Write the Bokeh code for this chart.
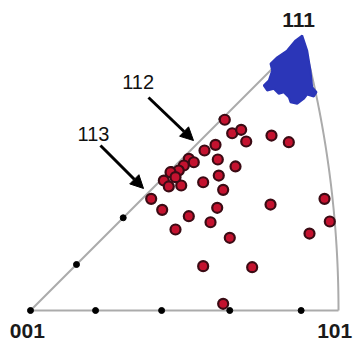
import numpy as np
from bokeh.plotting import figure
from bokeh.models import Label, Arrow, NormalHead
from bokeh.embed import file_html
from bokeh.resources import INLINE

# ---- data (stereographic projection coordinates, cubic standard triangle) ----
# tick marks every 10 degrees along the edges
edge_tick_deg_bottom = [0, 10, 20, 30, 40]
edge_tick_deg_diag = [10, 20, 30, 40, 50]

# grain orientations (red)
red_x = [0.2613, 0.2712, 0.2833, 0.2901, 0.3241, 0.3474, 0.2488, 0.2340, 0.2519, 0.2757,
         0.2129, 0.2196, 0.2062, 0.1994, 0.1883, 0.1793, 0.1860, 0.2027, 0.1950, 0.2322,
         0.2532, 0.2591, 0.1623, 0.1771, 0.2129, 0.2511, 0.2421, 0.1950, 0.2680, 0.3228,
         0.3954, 0.4025, 0.3752, 0.2322, 0.2981, 0.2591]
red_y = [0.2565, 0.2384, 0.2430, 0.2273, 0.2353, 0.2263, 0.2228, 0.2152, 0.2031, 0.1937,
         0.2040, 0.1994, 0.1950, 0.1883, 0.1860, 0.1748, 0.1668, 0.1681, 0.1793, 0.1725,
         0.1815, 0.1623, 0.1502, 0.1354, 0.1268, 0.1381, 0.1187, 0.1089, 0.0978, 0.1425,
         0.1502, 0.1197, 0.1035, 0.0596, 0.0582, 0.0090]

# cluster near 111 (blue)
blue_x = [0.3654, 0.3721, 0.3765, 0.3788, 0.3846, 0.3810, 0.3721, 0.3675, 0.3587, 0.3497,
          0.3474, 0.3406, 0.3339, 0.3272, 0.3183, 0.3137, 0.3205, 0.3250, 0.3228, 0.3318,
          0.3452, 0.3564]
blue_y = [0.3698, 0.3497, 0.3227, 0.3003, 0.2936, 0.2878, 0.2905, 0.2847, 0.2780, 0.2801,
          0.2868, 0.2936, 0.2914, 0.2981, 0.2959, 0.3026, 0.3093, 0.3227, 0.3318, 0.3406,
          0.3497, 0.3631]

# annotation arrows (start -> end) and their labels
arrow_labels = ["112", "113"]
arrow_x0 = [0.1587, 0.0941]
arrow_y0 = [0.2864, 0.2219]
arrow_x1 = [0.2192, 0.1520]
arrow_y1 = [0.2286, 0.1641]
arrow_text_x = [0.1233, 0.0632]
arrow_text_y = [0.3067, 0.2367]

pole_labels = ["001", "101", "111"]

# ---- figure ----
p = figure(width=354, height=342, x_range=(-0.04034, 0.43572), y_range=(-0.04303, 0.41689),
           output_backend="svg", toolbar_location=None, min_border=0,
           background_fill_color="white", border_fill_color="white")
p.axis.visible = False
p.grid.visible = False
p.outline_line_color = None

# triangle boundary
r101 = np.tan(np.radians(45) / 2)
r111 = np.tan(np.arccos(1 / np.sqrt(3)) / 2)
b = np.linspace(0, 1, 80)
arc_x = 1 / (np.sqrt(2 + b**2) + 1)
arc_y = b / (np.sqrt(2 + b**2) + 1)
gray = "#ababab"
p.line([0, r101], [0, 0], line_color=gray, line_width=2)
p.line([0, r111 / np.sqrt(2)], [0, r111 / np.sqrt(2)], line_color=gray, line_width=2)
p.line(arc_x, arc_y, line_color=gray, line_width=2)

# tick dots
tb = np.tan(np.radians(edge_tick_deg_bottom) / 2)
td = np.tan(np.radians(edge_tick_deg_diag) / 2) / np.sqrt(2)
p.scatter(tb, np.zeros_like(tb), size=6, color="black")
p.scatter(td, td, size=6, color="black")

# blue cluster
p.patch(blue_x, blue_y, fill_color="#2b36b8", line_color="#2b36b8", line_width=2)

# red orientations
p.scatter(red_x, red_y, size=10, fill_color="#c4122f", line_color="#3b0b14", line_width=2.2)

# arrows + labels
for i in range(len(arrow_labels)):
    p.add_layout(Arrow(end=NormalHead(size=13, fill_color="black", line_color="black"),
                       x_start=arrow_x0[i], y_start=arrow_y0[i],
                       x_end=arrow_x1[i], y_end=arrow_y1[i],
                       line_color="black", line_width=3))
    p.add_layout(Label(x=arrow_text_x[i], y=arrow_text_y[i], text=arrow_labels[i],
                       text_font="Liberation Sans", text_font_size="20px",
                       text_color="#111111", text_baseline="alphabetic"))

# pole labels
p.add_layout(Label(x=-0.0278, y=-0.0269, text=pole_labels[0], text_font="Liberation Sans",
                   text_font_size="21px", text_font_style="bold", text_color="#1a1a1a",
                   text_baseline="alphabetic", text_align="left"))
p.add_layout(Label(x=0.4326, y=-0.0269, text=pole_labels[1], text_font="Liberation Sans",
                   text_font_size="21px", text_font_style="bold", text_color="#1a1a1a",
                   text_baseline="alphabetic", text_align="right"))
p.add_layout(Label(x=0.3385, y=0.3900, text=pole_labels[2], text_font="Liberation Sans",
                   text_font_size="21px", text_font_style="bold", text_color="#1a1a1a",
                   text_baseline="alphabetic", text_align="left"))

open("out.html", "w").write(file_html(p, INLINE))
